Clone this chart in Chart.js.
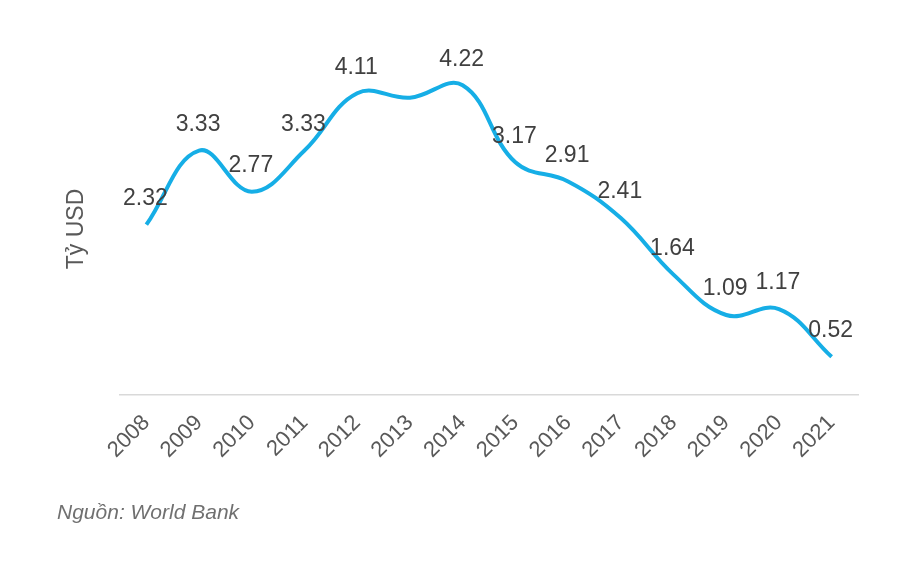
<!DOCTYPE html>
<html>
<head>
<meta charset="utf-8">
<script src="https://cdn.jsdelivr.net/npm/chart.js@4/dist/chart.umd.min.js"></script>
<style>
    body { margin: 0; background: #fff; }
    .wrap { position: relative; width: 922px; height: 586px; }
    #chart { position: absolute; left: 0; top: 0; }
    .source {
        position: absolute; left: 57px; top: 500px;
        font: italic 21px "Liberation Sans", Arial, sans-serif; color: #707070;
    }
</style>
</head>
<body>
<div class="wrap">
    <canvas id="chart" width="922" height="586"></canvas>
    <div class="source">Nguồn: World Bank</div>
</div>
<script>
// Dữ liệu (tỷ USD)
const years = ['2008', '2009', '2010', '2011', '2012', '2013', '2014', '2015', '2016', '2017', '2018', '2019', '2020', '2021'];
const values = [2.32, 3.33, 2.77, 3.33, 4.11, 4.05, 4.22, 3.17, 2.91, 2.41, 1.64, 1.09, 1.17, 0.52];
// nhãn 2013 không hiển thị trên hình gốc
const pointLabels = ['2.32', '3.33', '2.77', '3.33', '4.11', null, '4.22', '3.17', '2.91', '2.41', '1.64', '1.09', '1.17', '0.52'];
const yTitle = 'Tỷ USD';

// Vẽ nhãn giá trị và tiêu đề trục Y
const labelPlugin = {
    id: 'labels',
    afterDatasetsDraw(chart) {
        const ctx = chart.ctx;
        const meta = chart.getDatasetMeta(0);
        ctx.save();
        ctx.font = '23px "Liberation Sans", Arial, sans-serif';
        ctx.fillStyle = '#404040';
        ctx.textAlign = 'center';
        ctx.textBaseline = 'middle';
        meta.data.forEach((pt, i) => {
            if (pointLabels[i]) ctx.fillText(pointLabels[i], pt.x - 1, pt.y - 26);
        });
        ctx.translate(77, 229);
        ctx.rotate(-Math.PI / 2);
        ctx.fillStyle = '#595959';
        ctx.fillText(yTitle, 0, 0);
        ctx.restore();
    }
};

new Chart(document.getElementById('chart'), {
    type: 'line',
    data: {
        labels: years,
        datasets: [{
            data: values,
            borderColor: '#16aee6',
            borderWidth: 4,
            pointRadius: 0,
            tension: 0.4,
            fill: false
        }]
    },
    options: {
        responsive: false,
        animation: false,
        layout: { padding: { left: 120, right: 64, top: 28, bottom: 121 } },
        plugins: { legend: { display: false }, tooltip: { enabled: false } },
        scales: {
            x: {
                offset: true,
                grid: { display: false, drawTicks: false },
                border: { display: true, color: '#d9d9d9', width: 1.5 },
                ticks: {
                    minRotation: 45, maxRotation: 45, padding: 15,
                    color: '#595959',
                    font: { size: 22, family: '"Liberation Sans", Arial, sans-serif' }
                },
                afterFit: s => { s.height = 70; }
            },
            y: {
                display: false,
                min: 0,
                max: 5
            }
        }
    },
    plugins: [labelPlugin]
});
</script>
</body>
</html>
